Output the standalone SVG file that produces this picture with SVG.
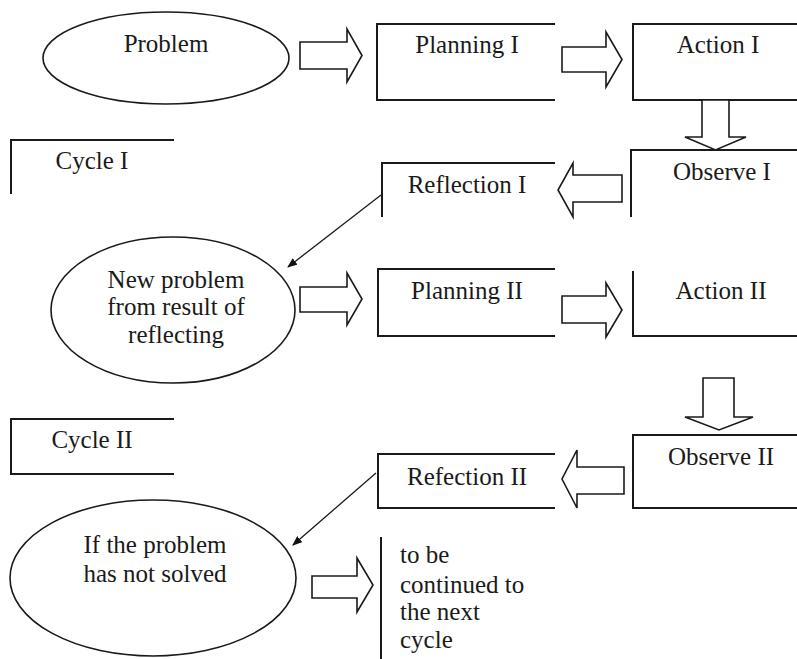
<svg xmlns="http://www.w3.org/2000/svg" width="797" height="659" viewBox="0 0 797 659">
<defs>
<marker id="ah" markerWidth="10" markerHeight="8" refX="9" refY="4" orient="auto" markerUnits="userSpaceOnUse">
<path d="M0,0 L10,4 L0,8 Z" fill="#111"/>
</marker>
</defs>
<style>
.bx{fill:none;stroke:#1a1a1a;stroke-width:2}
.el{fill:#fff;stroke:#1a1a1a;stroke-width:1.6}
.blk{fill:#fff;stroke:#1a1a1a;stroke-width:1.6;stroke-linejoin:miter}
.ln{stroke:#1a1a1a;stroke-width:1.3;fill:none}
.c{text-anchor:middle}
</style>
<rect width="797" height="659" fill="#fff"/>
<g font-family="Liberation Serif, Times New Roman, Times, serif" font-size="25" fill="#1a1a1a">
<g id="problem"><ellipse class="el" cx="166" cy="58" rx="123" ry="46"/><text class="c" x="166" y="52">Problem</text></g>
<g id="planning1"><path class="bx" d="M555,24 H377 V100 H555"/><text class="c" x="467" y="53">Planning I</text></g>
<g id="action1"><path class="bx" d="M797,24 H633 V100 H797"/><text class="c" x="718" y="53">Action I</text></g>
<g id="observe1"><path class="bx" d="M797,150 H631 V217"/><text class="c" x="722" y="180">Observe I</text></g>
<g id="reflection1"><path class="bx" d="M555,163 H382 V217"/><text class="c" x="467" y="193">Reflection I</text></g>
<g id="cycle1"><path class="bx" d="M174,140 H11 V194"/><text class="c" x="92" y="169">Cycle I</text></g>
<g id="newproblem"><ellipse class="el" cx="173" cy="310" rx="122" ry="73"/><text class="c" x="176" y="288">New problem</text><text class="c" x="176" y="315">from result of</text><text class="c" x="176" y="343">reflecting</text></g>
<g id="planning2"><path class="bx" d="M555,269 H378 V336 H555"/><text class="c" x="467" y="299">Planning II</text></g>
<g id="action2"><path class="bx" d="M633,271 V336 H797"/><text class="c" x="721" y="299">Action II</text></g>
<g id="observe2"><path class="bx" d="M797,435 H633 V508 H797"/><text class="c" x="721" y="465">Observe II</text></g>
<g id="refection2"><path class="bx" d="M555,454 H378 V508 H555"/><text class="c" x="467" y="485">Refection II</text></g>
<g id="cycle2"><path class="bx" d="M174,419 H11 V474 H174"/><text class="c" x="92" y="448">Cycle II</text></g>
<g id="notsolved"><ellipse class="el" cx="153" cy="578" rx="143" ry="78"/><text class="c" x="155" y="553">If the problem</text><text class="c" x="155" y="582">has not solved</text></g>
<g id="nextcycle"><path class="bx" d="M381,537 V659"/><text x="400" y="563">to be</text><text x="400" y="593">continued to</text><text x="400" y="620">the next</text><text x="400" y="648">cycle</text></g>
</g>
<g id="connectors">
<polygon class="blk" points="300,42 347,42 347,29 362,55.5 347,82 347,69 300,69"/>
<polygon class="blk" points="562,47 606,47 606,32 622,59.5 606,87 606,72 562,72"/>
<polygon class="blk" points="702,100 729,100 729,137 746,137 715.5,150 685,137 702,137"/>
<polygon class="blk" points="622,175 573,175 573,163 558,190 573,217 573,202 622,202"/>
<line class="ln" x1="381" y1="195" x2="288" y2="267" marker-end="url(#ah)"/>
<polygon class="blk" points="300,287 347,287 347,273 362,299 347,325 347,312 300,312"/>
<polygon class="blk" points="562,296 606,296 606,283 622,310 606,337 606,323 562,323"/>
<polygon class="blk" points="703,378 734,378 734,417 753,417 719,430 685,417 703,417"/>
<polygon class="blk" points="624,467 577,467 577,450 562,479 577,508 577,494 624,494"/>
<line class="ln" x1="376" y1="473" x2="293" y2="545" marker-end="url(#ah)"/>
<polygon class="blk" points="312,576 357,576 357,558 373,585 357,612 357,598 312,598"/>
</g>
</svg>
